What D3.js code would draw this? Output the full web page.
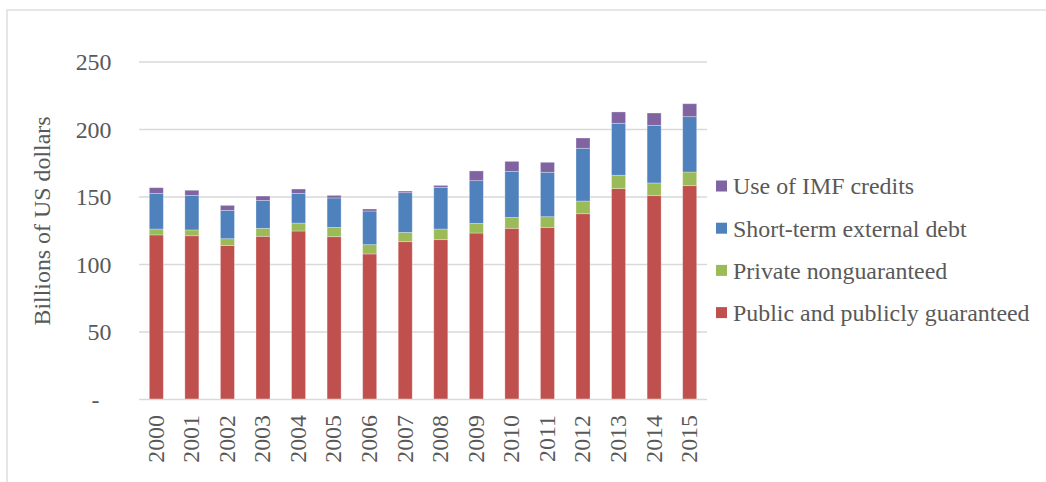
<!DOCTYPE html>
<html><head><meta charset="utf-8">
<script src="https://cdn.jsdelivr.net/npm/d3@7"></script>
<style>
html,body{margin:0;padding:0;background:#fff;}
svg{display:block;font-family:"Liberation Serif","Times New Roman",serif;}
</style></head>
<body><svg id="chart" width="1046" height="482"></svg>
<script>
const years = ["2000","2001","2002","2003","2004","2005","2006","2007","2008","2009","2010","2011","2012","2013","2014","2015"];
const publicGuaranteed = [121.9,121.3,114.0,120.9,124.8,120.6,107.8,116.9,118.4,123.3,126.8,127.5,137.6,156.2,151.0,158.4];
const privateNonguaranteed = [4.4,4.3,5.1,5.9,5.9,6.9,6.9,6.9,7.9,7.2,8.1,7.9,9.4,9.9,9.4,10.1];
const shortTerm = [26.4,25.6,21.0,20.7,22.0,21.8,24.9,29.4,30.9,31.6,34.1,32.9,39.1,38.5,42.7,41.0];
const imfCredits = [4.2,3.8,3.7,3.2,3.2,1.9,1.5,1.2,1.4,7.2,7.4,7.4,7.6,8.4,9.1,9.6];
const seriesNames = ["Public and publicly guaranteed","Private nonguaranteed","Short-term external debt","Use of IMF credits"];
const seriesColors = ["#C0504D","#9BBB59","#4F81BD","#8064A2"];
const yTicks = [0,50,100,150,200,250];
const yTickLabels = ["-","50","100","150","200","250"];
const yTitle = "Billions of US dollars";

const svg = d3.select("#chart");
const textColor = "#595959";
const fs = 23.9;

// outer frame
svg.append("rect").attr("x",7).attr("y",10).attr("width",1100).attr("height",600)
  .attr("fill","none").attr("stroke","#d9d9d9").attr("stroke-width",1.3);

const x = d3.scaleBand().domain(years).range([139,707]).paddingInner(0.606).paddingOuter(0.29);
const y = d3.scaleLinear().domain([0,250]).range([399.5,62]);

// gridlines
svg.append("g").selectAll("line").data(yTicks.filter(d=>d>0)).join("line")
  .attr("x1",139).attr("x2",707).attr("y1",d=>y(d)).attr("y2",d=>y(d))
  .attr("stroke","#d9d9d9").attr("stroke-width",1.3);

// y tick labels
svg.append("g").selectAll("text").data(yTicks).join("text")
  .attr("x",(d,i)=> d===0 ? 99.5 : 111.5)
  .attr("y",d=>y(d)).attr("dy","0.35em")
  .attr("text-anchor","end").attr("fill",textColor).attr("font-size",fs)
  .text((d,i)=>yTickLabels[i]);

// y title
svg.append("text").attr("transform","translate(50,221) rotate(-90)")
  .attr("text-anchor","middle").attr("fill",textColor).attr("font-size",fs).text(yTitle);

// stack
const rows = years.map((yr,i)=>({year:yr, s0:publicGuaranteed[i], s1:privateNonguaranteed[i], s2:shortTerm[i], s3:imfCredits[i]}));
const stack = d3.stack().keys(["s0","s1","s2","s3"])(rows);

svg.append("g").selectAll("g").data(stack).join("g")
  .attr("fill",(d,i)=>seriesColors[i])
  .selectAll("rect").data(d=>d).join("rect")
  .attr("x",d=>x(d.data.year)).attr("width",x.bandwidth())
  .attr("y",d=>y(d[1])).attr("height",d=>y(d[0])-y(d[1]))
  .attr("stroke","#ffffff").attr("stroke-opacity",0.35).attr("stroke-width",0.8);

// x axis line
svg.append("line").attr("x1",139).attr("x2",707).attr("y1",y(0)).attr("y2",y(0))
  .attr("stroke","#d9d9d9").attr("stroke-width",1.5);

// x labels
svg.append("g").selectAll("text").data(years).join("text")
  .attr("transform",d=>`translate(${x(d)+x.bandwidth()/2-1},415) rotate(-90)`)
  .attr("text-anchor","end").attr("dy","0.35em")
  .attr("fill",textColor).attr("font-size",fs).text(d=>d);

// legend (reverse order)
const legendOrder = [3,2,1,0];
const lg = svg.append("g");
legendOrder.forEach((si,k)=>{
  const cy = 186 + k*42.2;
  lg.append("rect").attr("x",716).attr("y",cy-5.5).attr("width",11).attr("height",11).attr("fill",seriesColors[si]);
  lg.append("text").attr("x",733).attr("y",cy).attr("dy","0.35em")
    .attr("fill",textColor).attr("font-size",fs).text(seriesNames[si]);
});
</script></body></html>
